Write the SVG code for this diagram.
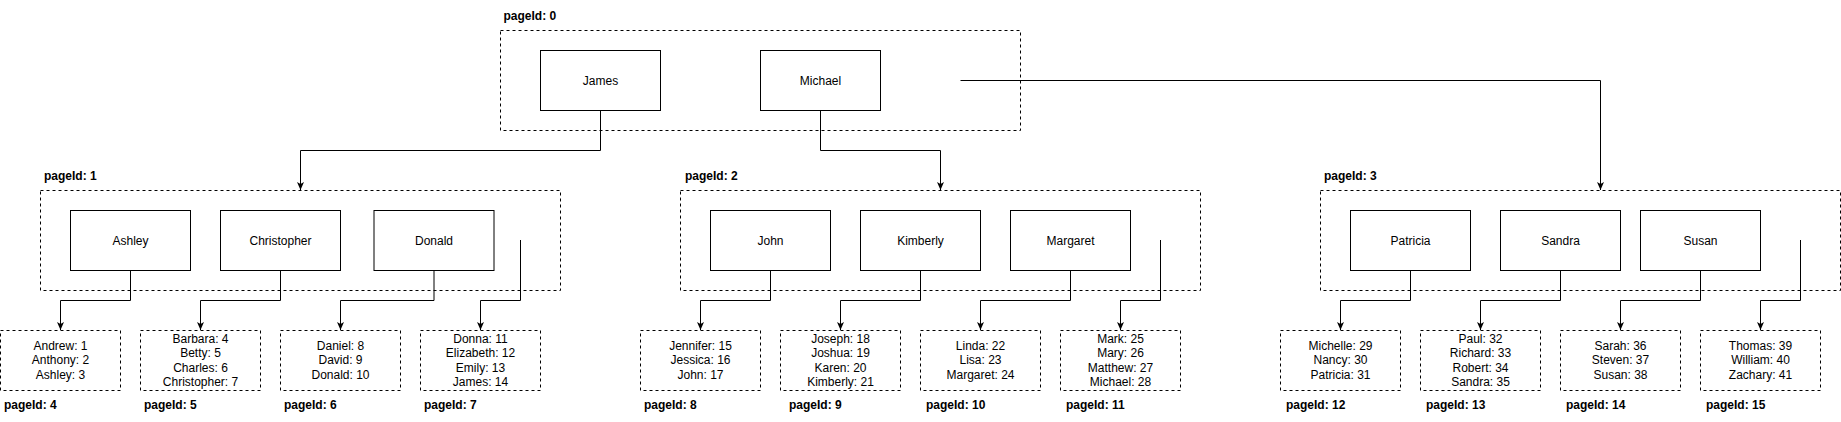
<svg xmlns="http://www.w3.org/2000/svg" width="1841" height="422" viewBox="0 0 1841 422">
<style>
text{font-family:"Liberation Sans",Arial,Helvetica,sans-serif;font-size:12px;fill:#000}
.lbl{font-weight:bold}
.c{text-anchor:middle}
.page{fill:none;stroke:#000;stroke-width:1;stroke-dasharray:3 3}
.leaf{fill:#fff;stroke:#000;stroke-width:1;stroke-dasharray:3 3}
.key{fill:#fff;stroke:#000;stroke-width:1}
.edge{fill:none;stroke:#000;stroke-width:1;marker-end:url(#arr)}
</style>
<defs>
<marker id="arr" markerUnits="userSpaceOnUse" viewBox="0 0 8 8" markerWidth="8" markerHeight="8" refX="8" refY="4" orient="auto">
<path d="M0,0.5 L8,4 L0,7.5 L2,4 Z" fill="#000"/>
</marker>
</defs>
<rect width="1841" height="422" fill="#fff"/>

<g id="page0">
<text class="lbl" x="503.5" y="20">pageId: 0</text>
<rect class="page" x="500.5" y="30.5" width="520" height="100"/>
<g id="n-james"><rect class="key" x="540.5" y="50.5" width="120" height="60"/><text class="c" x="600.5" y="84.5">James</text></g>
<g id="n-michael"><rect class="key" x="760.5" y="50.5" width="120" height="60"/><text class="c" x="820.5" y="84.5">Michael</text></g>
</g>

<g id="page1">
<text class="lbl" x="44" y="180">pageId: 1</text>
<rect class="page" x="40.5" y="190.5" width="520" height="100"/>
<g id="n-ashley"><rect class="key" x="70.5" y="210.5" width="120" height="60"/><text class="c" x="130.5" y="244.5">Ashley</text></g>
<g id="n-christopher"><rect class="key" x="220.5" y="210.5" width="120" height="60"/><text class="c" x="280.5" y="244.5">Christopher</text></g>
<g id="n-donald"><rect class="key" x="374" y="210.5" width="120" height="60"/><text class="c" x="434" y="244.5">Donald</text></g>
</g>

<g id="page2">
<text class="lbl" x="685" y="180">pageId: 2</text>
<rect class="page" x="680.5" y="190.5" width="520" height="100"/>
<g id="n-john"><rect class="key" x="710.5" y="210.5" width="120" height="60"/><text class="c" x="770.5" y="244.5">John</text></g>
<g id="n-kimberly"><rect class="key" x="860.5" y="210.5" width="120" height="60"/><text class="c" x="920.5" y="244.5">Kimberly</text></g>
<g id="n-margaret"><rect class="key" x="1010.5" y="210.5" width="120" height="60"/><text class="c" x="1070.5" y="244.5">Margaret</text></g>
</g>

<g id="page3">
<text class="lbl" x="1324" y="180">pageId: 3</text>
<rect class="page" x="1320.5" y="190.5" width="520" height="100"/>
<g id="n-patricia"><rect class="key" x="1350.5" y="210.5" width="120" height="60"/><text class="c" x="1410.5" y="244.5">Patricia</text></g>
<g id="n-sandra"><rect class="key" x="1500.5" y="210.5" width="120" height="60"/><text class="c" x="1560.5" y="244.5">Sandra</text></g>
<g id="n-susan"><rect class="key" x="1640.5" y="210.5" width="120" height="60"/><text class="c" x="1700.5" y="244.5">Susan</text></g>
</g>

<g id="page4">
<rect class="leaf" x="0.5" y="330.5" width="120" height="60"/>
<text class="c" x="60.5"><tspan x="60.5" y="350">Andrew: 1</tspan><tspan x="60.5" y="364.4">Anthony: 2</tspan><tspan x="60.5" y="378.8">Ashley: 3</tspan></text>
<text class="lbl" x="4" y="409">pageId: 4</text>
</g>
<g id="page5">
<rect class="leaf" x="140.5" y="330.5" width="120" height="60"/>
<text class="c" x="200.5"><tspan x="200.5" y="342.8">Barbara: 4</tspan><tspan x="200.5" y="357.2">Betty: 5</tspan><tspan x="200.5" y="371.6">Charles: 6</tspan><tspan x="200.5" y="386">Christopher: 7</tspan></text>
<text class="lbl" x="144" y="409">pageId: 5</text>
</g>
<g id="page6">
<rect class="leaf" x="280.5" y="330.5" width="120" height="60"/>
<text class="c" x="340.5"><tspan x="340.5" y="350">Daniel: 8</tspan><tspan x="340.5" y="364.4">David: 9</tspan><tspan x="340.5" y="378.8">Donald: 10</tspan></text>
<text class="lbl" x="284" y="409">pageId: 6</text>
</g>
<g id="page7">
<rect class="leaf" x="420.5" y="330.5" width="120" height="60"/>
<text class="c" x="480.5"><tspan x="480.5" y="342.8">Donna: 11</tspan><tspan x="480.5" y="357.2">Elizabeth: 12</tspan><tspan x="480.5" y="371.6">Emily: 13</tspan><tspan x="480.5" y="386">James: 14</tspan></text>
<text class="lbl" x="424" y="409">pageId: 7</text>
</g>
<g id="page8">
<rect class="leaf" x="640.5" y="330.5" width="120" height="60"/>
<text class="c" x="700.5"><tspan x="700.5" y="350">Jennifer: 15</tspan><tspan x="700.5" y="364.4">Jessica: 16</tspan><tspan x="700.5" y="378.8">John: 17</tspan></text>
<text class="lbl" x="644" y="409">pageId: 8</text>
</g>
<g id="page9">
<rect class="leaf" x="780.5" y="330.5" width="120" height="60"/>
<text class="c" x="840.5"><tspan x="840.5" y="342.8">Joseph: 18</tspan><tspan x="840.5" y="357.2">Joshua: 19</tspan><tspan x="840.5" y="371.6">Karen: 20</tspan><tspan x="840.5" y="386">Kimberly: 21</tspan></text>
<text class="lbl" x="789" y="409">pageId: 9</text>
</g>
<g id="page10">
<rect class="leaf" x="920.5" y="330.5" width="120" height="60"/>
<text class="c" x="980.5"><tspan x="980.5" y="350">Linda: 22</tspan><tspan x="980.5" y="364.4">Lisa: 23</tspan><tspan x="980.5" y="378.8">Margaret: 24</tspan></text>
<text class="lbl" x="926" y="409">pageId: 10</text>
</g>
<g id="page11">
<rect class="leaf" x="1060.5" y="330.5" width="120" height="60"/>
<text class="c" x="1120.5"><tspan x="1120.5" y="342.8">Mark: 25</tspan><tspan x="1120.5" y="357.2">Mary: 26</tspan><tspan x="1120.5" y="371.6">Matthew: 27</tspan><tspan x="1120.5" y="386">Michael: 28</tspan></text>
<text class="lbl" x="1066" y="409">pageId: 11</text>
</g>
<g id="page12">
<rect class="leaf" x="1280.5" y="330.5" width="120" height="60"/>
<text class="c" x="1340.5"><tspan x="1340.5" y="350">Michelle: 29</tspan><tspan x="1340.5" y="364.4">Nancy: 30</tspan><tspan x="1340.5" y="378.8">Patricia: 31</tspan></text>
<text class="lbl" x="1286" y="409">pageId: 12</text>
</g>
<g id="page13">
<rect class="leaf" x="1420.5" y="330.5" width="120" height="60"/>
<text class="c" x="1480.5"><tspan x="1480.5" y="342.8">Paul: 32</tspan><tspan x="1480.5" y="357.2">Richard: 33</tspan><tspan x="1480.5" y="371.6">Robert: 34</tspan><tspan x="1480.5" y="386">Sandra: 35</tspan></text>
<text class="lbl" x="1426" y="409">pageId: 13</text>
</g>
<g id="page14">
<rect class="leaf" x="1560.5" y="330.5" width="120" height="60"/>
<text class="c" x="1620.5"><tspan x="1620.5" y="350">Sarah: 36</tspan><tspan x="1620.5" y="364.4">Steven: 37</tspan><tspan x="1620.5" y="378.8">Susan: 38</tspan></text>
<text class="lbl" x="1566" y="409">pageId: 14</text>
</g>
<g id="page15">
<rect class="leaf" x="1700.5" y="330.5" width="120" height="60"/>
<text class="c" x="1760.5"><tspan x="1760.5" y="350">Thomas: 39</tspan><tspan x="1760.5" y="364.4">William: 40</tspan><tspan x="1760.5" y="378.8">Zachary: 41</tspan></text>
<text class="lbl" x="1706" y="409">pageId: 15</text>
</g>

<g id="connectors">
<path class="edge" d="M600.5,110.5 V150.5 H300.5 V190"/>
<path class="edge" d="M820.5,110.5 V150.5 H940.5 V190"/>
<path class="edge" d="M960.5,80.5 H1600.5 V190"/>
<path class="edge" d="M130.5,270.5 V300.5 H60.5 V330"/>
<path class="edge" d="M280.5,270.5 V300.5 H200.5 V330"/>
<path class="edge" d="M434,270.5 V300.5 H340.5 V330"/>
<path class="edge" d="M520.5,240 V300.5 H480.5 V330"/>
<path class="edge" d="M770.5,270.5 V300.5 H700.5 V330"/>
<path class="edge" d="M920.5,270.5 V300.5 H840.5 V330"/>
<path class="edge" d="M1070.5,270.5 V300.5 H980.5 V330"/>
<path class="edge" d="M1160.5,240 V300.5 H1120.5 V330"/>
<path class="edge" d="M1410.5,270.5 V300.5 H1340.5 V330"/>
<path class="edge" d="M1560.5,270.5 V300.5 H1480.5 V330"/>
<path class="edge" d="M1700.5,270.5 V300.5 H1620.5 V330"/>
<path class="edge" d="M1800.5,240 V300.5 H1760.5 V330"/>
</g>
</svg>
